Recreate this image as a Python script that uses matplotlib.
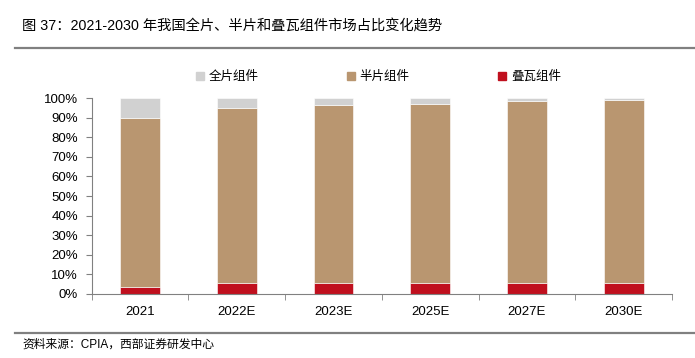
import matplotlib.pyplot as plt
import numpy as np
from matplotlib.lines import Line2D

plt.rcParams['font.family'] = ['Liberation Sans', 'Noto Sans CJK SC', 'DejaVu Sans']

years = ['2021', '2022E', '2023E', '2025E', '2027E', '2030E']
shingled = [3.6, 5.6, 5.6, 5.6, 5.6, 5.6]      # 叠瓦组件
half_cut = [86.5, 89.6, 90.8, 91.7, 92.9, 93.4]  # 半片组件
full_cell = [9.9, 4.8, 3.6, 2.7, 1.5, 1.0]      # 全片组件

C_FULL = '#D1D1D1'
C_HALF = '#B99670'
C_SHINGLE = '#C0101E'

fig = plt.figure(figsize=(6.95, 3.58), dpi=100)
ax = fig.add_axes([0.132, 0.18, 0.835, 0.545])

x = np.arange(len(years))
w = 0.41
shingled = np.array(shingled)
half_cut = np.array(half_cut)
full_cell = np.array(full_cell)

ax.bar(x, shingled, w, color=C_SHINGLE, edgecolor='white', linewidth=0.4)
ax.bar(x, half_cut, w, bottom=shingled, color=C_HALF, edgecolor='white', linewidth=0.4)
ax.bar(x, full_cell, w, bottom=shingled + half_cut, color=C_FULL, edgecolor='white', linewidth=0.4)

ax.set_xlim(-0.5, len(years) - 0.5)
ax.set_ylim(0, 100)
ax.set_yticks(np.arange(0, 101, 10))
ax.set_yticklabels([f'{v}%' for v in range(0, 101, 10)], fontsize=9.5)
ax.set_xticks(x)
ax.set_xticklabels(years, fontsize=9.5)
ax.set_xticks(np.arange(-0.5, len(years), 1), minor=True)
ax.tick_params(axis='x', which='major', length=0, pad=9)
ax.tick_params(axis='x', which='minor', length=4, color='#808080')
ax.tick_params(axis='y', length=4, color='#808080', pad=6)

for s in ['top', 'right']:
    ax.spines[s].set_visible(False)
for s in ['left', 'bottom']:
    ax.spines[s].set_color('#808080')
    ax.spines[s].set_linewidth(0.8)

handles = [
    Line2D([], [], marker='s', linestyle='', markersize=5.5, color=C_FULL),
    Line2D([], [], marker='s', linestyle='', markersize=5.5, color=C_HALF),
    Line2D([], [], marker='s', linestyle='', markersize=5.5, color=C_SHINGLE),
]
fig.legend(handles, ['全片组件', '半片组件', '叠瓦组件'], ncol=3, frameon=False,
           loc='center', bbox_to_anchor=(0.5425, 0.785), fontsize=9,
           columnspacing=6.9, handletextpad=0.2, handlelength=1.0)

fig.text(0.032, 0.927, '图 37：2021-2030 年我国全片、半片和叠瓦组件市场占比变化趋势',
         fontsize=10.3, va='center', ha='left')
fig.add_artist(Line2D([0.022, 1.0], [0.866, 0.866], color='#808080', linewidth=1.6))
fig.add_artist(Line2D([0.022, 1.0], [0.07, 0.07], color='#808080', linewidth=1.6))
fig.text(0.032, 0.036, '资料来源：CPIA，西部证券研发中心', fontsize=8.5, va='center', ha='left')

fig.savefig('out.png', dpi=100)
